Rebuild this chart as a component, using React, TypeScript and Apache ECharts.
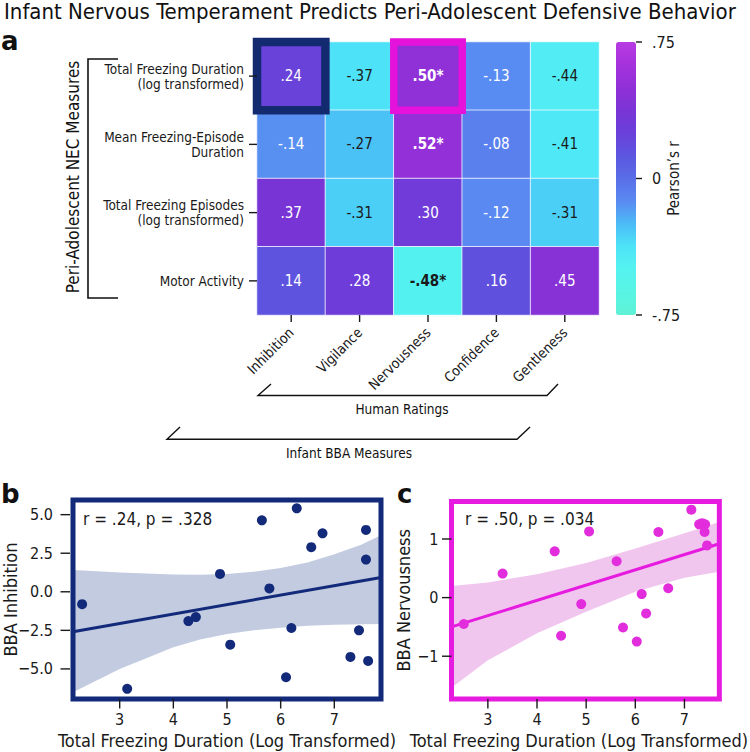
import { useEffect, useRef } from 'react';
import * as echarts from 'echarts';

const FONT = "'DejaVu Sans Condensed', 'DejaVu Sans', sans-serif";
const INK = '#1a1a1a';

// ---------- Panel a: correlation heatmap ----------
const bbaMeasures = ['Inhibition', 'Vigilance', 'Nervousness', 'Confidence', 'Gentleness'];
const necMeasures = [
  'Total Freezing Duration\n(log transformed)',
  'Mean Freezing-Episode\nDuration',
  'Total Freezing Episodes\n(log transformed)',
  'Motor Activity',
];
const rTotalDuration = [0.24, -0.37, 0.5, -0.13, -0.44];
const rMeanEpisode = [-0.14, -0.27, 0.52, -0.08, -0.41];
const rTotalEpisodes = [0.37, -0.31, 0.3, -0.12, -0.31];
const rMotorActivity = [0.14, 0.28, -0.48, 0.16, 0.45];
const rRows = [rTotalDuration, rMeanEpisode, rTotalEpisodes, rMotorActivity];
const significantCells = [[2, 0], [2, 1], [2, 3]]; // [col,row]
const highlightCells = [[0, 0], [2, 0]];
const highlightColors = ['#132a70', '#e412da'];
const colorbarTicks = [-0.75, 0, 0.75];
const colorStops = [
  '#5ef2d5', '#58f4e4', '#55f3f0', '#4de4f8', '#4bbcf6', '#5a8af2', '#5a6ee8',
  '#5c56e0', '#6a40da', '#7a34d6', '#9030d7', '#a532dc', '#b83be3',
];

// ---------- Panel b: BBA Inhibition ----------
const bX = [2.3, 3.14, 4.28, 4.42, 4.87, 5.06, 5.65, 5.79, 6.1, 6.2, 6.3, 6.57, 6.78, 7.3, 7.46, 7.59, 7.59, 7.63];
const bY = [-0.8, -6.29, -1.9, -1.64, 1.16, -3.43, 4.63, 0.22, -5.54, -2.35, 5.41, 2.89, 3.79, -4.22, -2.5, 4.01, 2.09, -4.48];
const bLineX = [2.13, 7.87];
const bLineY = [-2.59, 0.93];
const bBandX = [2.13, 3.0, 4.0, 4.5, 5.0, 5.5, 6.0, 6.5, 7.0, 7.5, 7.87];
const bBandLo = [-6.51, -5.0, -3.6, -3.1, -2.74, -2.5, -2.33, -2.2, -2.13, -2.1, -2.09];
const bBandHi = [1.42, 1.25, 1.12, 1.1, 1.15, 1.3, 1.55, 1.9, 2.44, 3.05, 3.66];
const bXRange = [2.13, 7.87];
const bYRange = [-6.95, 5.95];
const bXTicks = [3, 4, 5, 6, 7];
const bYTicks = [-5, -2.5, 0, 2.5, 5];

// ---------- Panel c: BBA Nervousness ----------
const cX = [2.51, 3.3, 4.36, 4.49, 4.9, 5.06, 5.62, 5.75, 6.03, 6.13, 6.22, 6.47, 6.67, 7.14, 7.3, 7.36, 7.42, 7.41, 7.46];
const cY = [-0.45, 0.41, 0.79, -0.65, -0.11, 1.13, 0.62, -0.51, -0.75, 0.06, -0.27, 1.12, 0.16, 1.5, 1.25, 1.27, 1.25, 1.12, 0.89];
const cLineX = [2.26, 7.71];
const cLineY = [-0.5, 0.92];
const cBandX = [2.26, 3.0, 4.0, 5.0, 6.0, 7.0, 7.71];
const cBandLo = [-1.54, -1.07, -0.61, -0.24, 0.1, 0.34, 0.44];
const cBandHi = [0.2, 0.26, 0.4, 0.59, 0.84, 1.1, 1.29];
const cXRange = [2.26, 7.71];
const cYRange = [-1.73, 1.64];
const cXTicks = [3, 4, 5, 6, 7];
const cYTicks = [-1, 0, 1];

const NAVY = '#13297a';
const NAVY_BAND = '#c2cbe0';
const MAGENTA = '#e61be0';
const MAGENTA_DOT = '#e22ddd';
const MAGENTA_BAND = '#f1c6ee';

// layout of the four grids
const G_HEAT = { left: 257, top: 42, width: 342, height: 273 };
const G_BAR = { left: 616, top: 42, width: 20, height: 273 };
const G_B = { left: 70, top: 500, width: 311, height: 199 };
const G_C = { left: 451.5, top: 501.5, width: 293.5, height: 197.5 };

const fmtR = (v: number) => (v < 0 ? '-' : '') + Math.abs(v).toFixed(2).replace(/^0/, '');
const minus = (s: string) => s.replace('-', '\u2212');

function bandRender(color: string) {
  return (params: any, api: any) => {
    if (params.dataIndex !== 0) return null;
    const n = params.dataInsideLength;
    const upper: number[][] = [];
    const lower: number[][] = [];
    for (let i = 0; i < n; i++) {
      upper.push(api.coord([api.value(0, i), api.value(2, i)]));
      lower.push(api.coord([api.value(0, i), api.value(1, i)]));
    }
    return {
      type: 'polygon',
      shape: { points: upper.concat(lower.reverse()) },
      style: { fill: color },
    };
  };
}

function frameRender(color: string) {
  return (params: any) => {
    const cs = params.coordSys;
    return {
      type: 'rect',
      shape: { x: cs.x, y: cs.y, width: cs.width, height: cs.height },
      style: { fill: 'none', stroke: color, lineWidth: 5 },
    };
  };
}

function scatterAxes(
  grid: number,
  xr: number[], yr: number[], xt: number[], yt: number[],
  yName: string, yGap: number, yMargin: number, yFmt: (v: number) => string, namePadRight: number,
) {
  const x = {
    type: 'value', gridIndex: grid, min: xr[0], max: xr[1],
    axisLine: { show: false }, splitLine: { show: false }, axisTick: { show: false },
    axisLabel: { customValues: xt, margin: 12, fontSize: 16, color: INK, fontFamily: FONT, formatter: (v: number) => String(v) },
    name: 'Total Freezing Duration (Log Transformed)', nameLocation: 'middle', nameGap: 32, nameMoveOverlap: false,
    nameTextStyle: { fontSize: 18, color: INK, fontFamily: FONT, padding: [0, namePadRight, 0, 0] },
  };
  const y = {
    type: 'value', gridIndex: grid, min: yr[0], max: yr[1],
    axisLine: { show: false }, splitLine: { show: false }, axisTick: { show: false },
    axisLabel: { customValues: yt, margin: yMargin, fontSize: 16, color: INK, fontFamily: FONT, formatter: yFmt },
    name: yName, nameLocation: 'middle', nameGap: yGap, nameMoveOverlap: false,
    nameTextStyle: { fontSize: 18, color: INK, fontFamily: FONT },
  };
  return { x, y };
}

export default function App() {
  const ref = useRef<HTMLDivElement>(null);
  useEffect(() => {
    document.body.style.margin = '0';
    if (!ref.current) return;
    const chart = echarts.init(ref.current, undefined, { renderer: 'svg' });

    const isSig = (c: number, r: number) => significantCells.some(([sc, sr]) => sc === c && sr === r);
    const heatData: any[] = [];
    rRows.forEach((row, r) => {
      row.forEach((v, c) => {
        heatData.push({
          value: [c, r, v],
          label: { color: v < -0.2 ? INK : '#ffffff', fontWeight: isSig(c, r) ? 'bold' : 'normal' },
        });
      });
    });

    const bAx = scatterAxes(2, bXRange, bYRange, bXTicks, bYTicks, 'BBA Inhibition', 54, 20,
      (v: number) => minus(v.toFixed(1)), 0);
    const cAx = scatterAxes(3, cXRange, cYRange, cXTicks, cYTicks, 'BBA Nervousness', 39, 13,
      (v: number) => minus(String(v)), 13);

    const option: any = {
      animation: false,
      backgroundColor: '#ffffff',
      textStyle: { fontFamily: FONT },
      grid: [G_HEAT, G_BAR, G_B, G_C],
      xAxis: [
        {
          type: 'category', gridIndex: 0, data: bbaMeasures,
          axisLine: { show: false }, splitLine: { show: false }, axisTick: { show: false },
          axisLabel: { rotate: 45, margin: 15, fontSize: 14, color: INK, fontFamily: FONT, interval: 0 },
        },
        { type: 'value', gridIndex: 1, show: false, min: 0, max: 1 },
        bAx.x,
        cAx.x,
      ],
      yAxis: [
        {
          type: 'category', gridIndex: 0, data: necMeasures, inverse: true,
          axisLine: { show: false }, splitLine: { show: false }, axisTick: { show: false },
          axisLabel: { margin: 13, fontSize: 13.5, lineHeight: 15, color: INK, fontFamily: FONT, align: 'right', interval: 0 },
        },
        {
          type: 'value', gridIndex: 1, position: 'right', min: -0.75, max: 0.75,
          axisLine: { show: false }, splitLine: { show: false }, axisTick: { show: false },
          axisLabel: {
            customValues: colorbarTicks, margin: 16, fontSize: 16, color: INK, fontFamily: FONT,
            formatter: (v: number) => (v === 0 ? '0' : fmtR(v)),
          },
          name: 'Pearson\u2019s r', nameLocation: 'middle', nameRotate: 90, nameGap: 30, nameMoveOverlap: false,
          nameTextStyle: { fontSize: 15, color: INK, fontFamily: FONT },
        },
        bAx.y,
        cAx.y,
      ],
      visualMap: {
        type: 'continuous', seriesIndex: 0, min: -0.75, max: 0.75,
        left: G_BAR.left, top: G_BAR.top, itemWidth: G_BAR.width, itemHeight: G_BAR.height, padding: 0,
        calculable: false, text: null, showLabel: false, hoverLink: false,
        inRange: { color: colorStops },
      },
      series: [
        {
          type: 'heatmap', xAxisIndex: 0, yAxisIndex: 0, data: heatData,
          itemStyle: { borderColor: 'rgba(255,255,255,0.75)', borderWidth: 1 },
          label: {
            show: true, fontSize: 15, fontFamily: FONT,
            formatter: (p: any) => fmtR(p.value[2]) + (isSig(p.value[0], p.value[1]) ? '*' : ''),
          },
          emphasis: { disabled: true },
        },
        {
          type: 'custom', xAxisIndex: 0, yAxisIndex: 0, z: 5,
          data: highlightCells,
          renderItem: (params: any, api: any) => {
            const c = api.coord([api.value(0), api.value(1)]);
            const s = api.size([1, 1]);
            return {
              type: 'rect',
              shape: { x: c[0] - s[0] / 2, y: c[1] - s[1] / 2, width: s[0], height: s[1] },
              style: { fill: 'none', stroke: highlightColors[params.dataIndex], lineWidth: params.dataIndex === 0 ? 8.5 : 7.5 },
            };
          },
        },
        // panel b
        {
          type: 'custom', xAxisIndex: 2, yAxisIndex: 2, z: 1, clip: true,
          data: bBandX.map((x, i) => [x, bBandLo[i], bBandHi[i]]),
          renderItem: bandRender(NAVY_BAND),
        },
        {
          type: 'line', xAxisIndex: 2, yAxisIndex: 2, z: 3, showSymbol: false,
          data: bLineX.map((x, i) => [x, bLineY[i]]),
          lineStyle: { color: NAVY, width: 3 },
        },
        {
          type: 'scatter', xAxisIndex: 2, yAxisIndex: 2, z: 4, symbolSize: 10,
          data: bX.map((x, i) => [x, bY[i]]),
          itemStyle: { color: NAVY, opacity: 1 },
        },
        {
          type: 'custom', xAxisIndex: 2, yAxisIndex: 2, z: 10,
          data: [[bXRange[0], bYRange[0]]],
          renderItem: frameRender(NAVY),
        },
        // panel c
        {
          type: 'custom', xAxisIndex: 3, yAxisIndex: 3, z: 1, clip: true,
          data: cBandX.map((x, i) => [x, cBandLo[i], cBandHi[i]]),
          renderItem: bandRender(MAGENTA_BAND),
        },
        {
          type: 'line', xAxisIndex: 3, yAxisIndex: 3, z: 3, showSymbol: false,
          data: cLineX.map((x, i) => [x, cLineY[i]]),
          lineStyle: { color: MAGENTA, width: 3 },
        },
        {
          type: 'scatter', xAxisIndex: 3, yAxisIndex: 3, z: 4, symbolSize: 10,
          data: cX.map((x, i) => [x, cY[i]]),
          itemStyle: { color: MAGENTA_DOT, opacity: 1 },
        },
        {
          type: 'custom', xAxisIndex: 3, yAxisIndex: 3, z: 10,
          data: [[cXRange[0], cYRange[0]]],
          renderItem: frameRender(MAGENTA),
        },
      ],
    };
    chart.setOption(option);

    // tick marks, placed through the axes' scales (library conversion, with a linear fallback)
    const ok = (n: any) => typeof n === 'number' && isFinite(n);
    const px = (xi: number, yi: number, v: number[], fb: number[]) => {
      let p: any = null;
      try { p = chart.convertToPixel({ xAxisIndex: xi, yAxisIndex: yi } as any, v); } catch (e) { p = null; }
      if (!p || !ok(p[0]) || !ok(p[1])) return fb;
      return [ok(p[0]) ? p[0] : fb[0], ok(p[1]) ? p[1] : fb[1]];
    };
    const lin = (v: number, r: number[], a: number, b: number) => a + ((v - r[0]) / (r[1] - r[0])) * (b - a);
    const TW = 1.4;
    const vtick = (x: number, y: number, len: number) => ({
      type: 'rect', z: 50, silent: true, shape: { x: x - TW / 2, y, width: TW, height: len }, style: { fill: INK },
    });
    const htick = (x: number, y: number, len: number) => ({
      type: 'rect', z: 50, silent: true, shape: { x, y: y - TW / 2, width: len, height: TW }, style: { fill: INK },
    });
    const ticks: any[] = [];
    const heatBottom = G_HEAT.top + G_HEAT.height;
    bbaMeasures.forEach((_, i) => {
      const fb = [G_HEAT.left + ((i + 0.5) * G_HEAT.width) / bbaMeasures.length, heatBottom];
      const p = px(0, 0, [i, necMeasures.length - 1], fb);
      ticks.push(vtick(p[0], heatBottom, 7));
    });
    necMeasures.forEach((_, i) => {
      const fb = [G_HEAT.left, G_HEAT.top + ((i + 0.5) * G_HEAT.height) / necMeasures.length];
      const p = px(0, 0, [0, i], fb);
      ticks.push(htick(G_HEAT.left - 8, p[1], 8));
    });
    colorbarTicks.forEach((v) => {
      const fb = [G_BAR.left, lin(v, [0.75, -0.75], G_BAR.top, G_BAR.top + G_BAR.height)];
      const p = px(1, 1, [0.5, v], fb);
      ticks.push(htick(G_BAR.left + G_BAR.width, p[1], 6));
    });
    const scatterTicks = (ai: number, g: any, xt: number[], yt: number[], xr: number[], yr: number[]) => {
      const bottom = g.top + g.height;
      xt.forEach((v) => {
        const fb = [lin(v, xr, g.left, g.left + g.width), bottom];
        const p = px(ai, ai, [v, yr[0]], fb);
        ticks.push(vtick(p[0], bottom, 9.5));
      });
      yt.forEach((v) => {
        const fb = [g.left, lin(v, [yr[1], yr[0]], g.top, bottom)];
        const p = px(ai, ai, [xr[0], v], fb);
        ticks.push(htick(g.left - 9.5, p[1], 9.5));
      });
    };
    scatterTicks(2, G_B, bXTicks, bYTicks, bXRange, bYRange);
    scatterTicks(3, G_C, cXTicks, cYTicks, cXRange, cYRange);

    const letter = (t: string, x: number, y: number) => ({
      type: 'text', x, y,
      style: { text: t, fontSize: 26, fontWeight: 'bold', fontFamily: "'DejaVu Sans', sans-serif", fill: '#111', verticalAlign: 'middle' },
    });
    const graphic: any[] = [
      {
        type: 'text', x: 4, y: 0,
        style: { text: 'Infant Nervous Temperament Predicts Peri-Adolescent Defensive Behavior', fontSize: 22, fontFamily: FONT, fill: '#111' },
      },
      letter('a', 1, 41),
      letter('b', 1, 494),
      letter('c', 397, 494),
      {
        type: 'text', x: 73, y: 177, rotation: Math.PI / 2,
        style: { text: 'Peri-Adolescent NEC Measures', fontSize: 17, fontFamily: FONT, fill: '#111', align: 'center', verticalAlign: 'middle' },
      },
      {
        type: 'polyline', shape: { points: [[118, 59], [88, 59], [88, 298], [118, 298]] },
        style: { stroke: '#111', lineWidth: 1.6, fill: 'none' },
      },
      {
        type: 'polyline', shape: { points: [[271, 384], [258, 395.5], [547, 395.5], [558, 384]] },
        style: { stroke: '#111', lineWidth: 1.4, fill: 'none' },
      },
      { type: 'text', x: 402, y: 409, style: { text: 'Human Ratings', fontSize: 13.5, fontFamily: FONT, fill: '#111', align: 'center', verticalAlign: 'middle' } },
      {
        type: 'polyline', shape: { points: [[180, 427], [167, 439.3], [517, 439.3], [530, 427]] },
        style: { stroke: '#111', lineWidth: 1.4, fill: 'none' },
      },
      { type: 'text', x: 349, y: 453, style: { text: 'Infant BBA Measures', fontSize: 13.5, fontFamily: FONT, fill: '#111', align: 'center', verticalAlign: 'middle' } },
      { type: 'text', x: 83, y: 519, z: 20, style: { text: 'r = .24, p = .328', fontSize: 17, fontFamily: FONT, fill: INK, verticalAlign: 'middle' } },
      { type: 'text', x: 465, y: 519, z: 20, style: { text: 'r = .50, p = .034', fontSize: 17, fontFamily: FONT, fill: INK, verticalAlign: 'middle' } },
      ...ticks,
    ];
    chart.setOption({ graphic });
    return () => chart.dispose();
  }, []);
  return <div ref={ref} style={{ position: 'absolute', left: 0, top: 0, width: 750, height: 752 }} />;
}
